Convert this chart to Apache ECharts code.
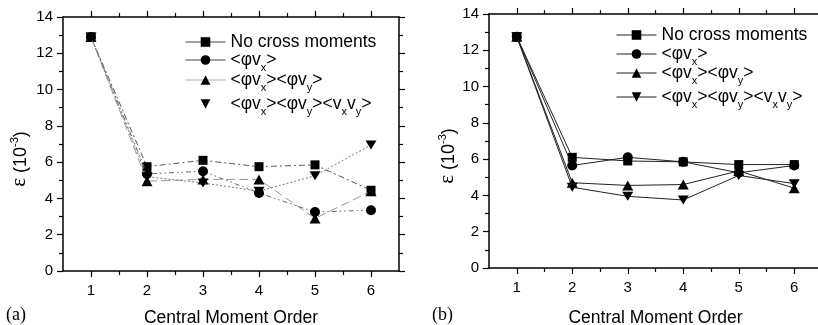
<!DOCTYPE html>
<html>
<head>
<meta charset="utf-8">
<script src="https://cdn.jsdelivr.net/npm/echarts@6/dist/echarts.min.js"></script>
<style>
  html, body { margin: 0; padding: 0; background: #fff; }
  #chart { width: 818px; height: 325px; }
</style>
</head>
<body>
<div id="chart"></div>
<script>
// Central moment order on the horizontal axis
const orders = [1, 2, 3, 4, 5, 6];
const halfSteps = [1.5, 2.5, 3.5, 4.5, 5.5];

// Panel (a): error ε (×10^-3) per closure
const aNoCross = [12.9, 5.75, 6.1, 5.75, 5.85, 4.45];
const aPhiVx = [12.9, 5.35, 5.5, 4.3, 3.25, 3.35];
const aPhiVxVy = [12.9, 4.95, 5.05, 5.05, 2.9, 4.4];
const aAllCross = [12.9, 5.2, 4.85, 4.4, 5.25, 6.95];

// Panel (b)
const bNoCross = [12.75, 6.1, 5.9, 5.85, 5.7, 5.7];
const bPhiVx = [12.75, 5.65, 6.1, 5.85, 5.25, 5.65];
const bPhiVxVy = [12.75, 4.7, 4.55, 4.6, 5.35, 4.4];
const bAllCross = [12.75, 4.45, 3.95, 3.75, 5.1, 4.65];

// Legend entries (rich text: t = normal, s = subscript)
const seriesKeys = ['none', 'x', 'xy', 'xyv'];
const legendLabels = [
  '{t|No cross moments}',
  '{t|<φv}{s|x}{t|>}',
  '{t|<φv}{s|x}{t|><φv}{s|y}{t|>}',
  '{t|<φv}{s|x}{t|><φv}{s|y}{t|><v}{s|x}{t|v}{s|y}{t|>}'
];
const yTitle = '{e|ε}{t| (10}{p|-3}{t|)}';
const xTitle = 'Central Moment Order';

const SANS = 'Liberation Sans, Arial, sans-serif';
const SERIF = 'Liberation Serif, Times New Roman, serif';
const DOWN_TRIANGLE = 'path://M0,0L10,0L5,9Z';
const symbols = ['rect', 'circle', 'triangle', DOWN_TRIANGLE];
const symbolSizes = [9, 10, [11, 10], [11, 10]];

const panels = [
  {
    key: 'a', tag: '(a)', tagLeft: 6,
    grid: { left: 63, top: 17, width: 336, height: 254, outerBoundsMode: 'none' },
    xNameGap: 38, yNameGap: 33,
    values: [aNoCross, aPhiVx, aPhiVxVy, aAllCross],
    lines: [
      { color: '#555', width: 1, type: [6, 3, 2, 3] },
      { color: '#666', width: 1, type: [5, 3, 1.5, 3, 1.5, 3] },
      { color: '#999', width: 1, type: [9, 4] },
      { color: '#777', width: 1, type: [2, 2] }
    ],
    legendLines: [
      { type: 'solid', color: '#444', width: 1 },
      { type: 'solid', color: '#444', width: 1 },
      { type: 'solid', color: '#aaa', width: 1 },
      { type: 'solid', color: '#fff', width: 1, opacity: 0 }
    ],
    legendLeft: 185, legendTops: [33, 51, 71, 95]
  },
  {
    key: 'b', tag: '(b)', tagLeft: 432,
    grid: { left: 489, top: 14, width: 333, height: 254, outerBoundsMode: 'none' },
    xNameGap: 41, yNameGap: 29,
    values: [bNoCross, bPhiVx, bPhiVxVy, bAllCross],
    lines: [0, 1, 2, 3].map(() => ({ color: '#222', width: 1, type: 'solid' })),
    legendLines: [0, 1, 2, 3].map(() => ({ type: 'solid', color: '#222', width: 1 })),
    legendLeft: 616, legendTops: [26, 45, 64, 88]
  }
];

const black = { color: '#000', width: 1.5 };
const tickLine = { color: '#000', width: 1.2 };

function xAxesFor(gi, p) {
  const base = { gridIndex: gi, type: 'value', min: 0.5, max: 6.5, splitLine: { show: false } };
  return [
    Object.assign({}, base, {
      position: 'bottom',
      axisLine: { show: true, lineStyle: black },
      axisTick: { show: true, customValues: orders, length: 6, lineStyle: tickLine },
      axisLabel: { customValues: orders, fontSize: 15, fontFamily: SANS, color: '#000', margin: 12 },
      name: xTitle, nameLocation: 'middle', nameGap: p.xNameGap,
      nameTextStyle: { fontSize: 17.5, fontFamily: SANS, color: '#000' }
    }),
    Object.assign({}, base, {
      position: 'bottom',
      axisLine: { show: false },
      axisTick: { show: true, customValues: halfSteps, length: 4, lineStyle: tickLine },
      axisLabel: { show: false }
    }),
    Object.assign({}, base, {
      position: 'top',
      axisLine: { show: true, lineStyle: black },
      axisTick: { show: true, customValues: orders, length: 6, lineStyle: tickLine },
      axisLabel: { show: false }
    }),
    Object.assign({}, base, {
      position: 'top',
      axisLine: { show: false },
      axisTick: { show: true, customValues: halfSteps, length: 4, lineStyle: tickLine },
      axisLabel: { show: false }
    })
  ];
}

function yAxesFor(gi, p) {
  const base = {
    gridIndex: gi, type: 'value', min: 0, max: 14, interval: 2,
    splitLine: { show: false },
    axisLine: { show: true, lineStyle: black },
    axisTick: { show: true, length: 6, lineStyle: tickLine },
    minorTick: { show: true, splitNumber: 2, length: 4, lineStyle: tickLine }
  };
  return [
    Object.assign({}, base, {
      position: 'left',
      axisLabel: { fontSize: 15, fontFamily: SANS, color: '#000', margin: 10 },
      name: yTitle, nameLocation: 'middle', nameRotate: 90, nameGap: p.yNameGap,
      nameTextStyle: {
        padding: [0, 30, 0, 0],
        rich: {
          e: { fontSize: 21, fontFamily: SERIF, color: '#000', verticalAlign: 'bottom' },
          t: { fontSize: 18, fontFamily: SANS, color: '#000', verticalAlign: 'bottom' },
          p: { fontSize: 11, fontFamily: SANS, color: '#000', verticalAlign: 'top', lineHeight: 21 }
        }
      }
    }),
    Object.assign({}, base, { position: 'right', axisLabel: { show: false } })
  ];
}

const legendText = {
  fontFamily: SANS, fontSize: 17.5, color: '#000',
  rich: {
    t: { fontSize: 17.5, fontFamily: SANS, color: '#000', verticalAlign: 'middle' },
    s: { fontSize: 11, fontFamily: SANS, color: '#000', verticalAlign: 'bottom', lineHeight: 27 }
  }
};

const option = {
  animation: false,
  backgroundColor: '#fff',
  grid: panels.map(p => p.grid),
  xAxis: panels.flatMap((p, gi) => xAxesFor(gi, p)),
  yAxis: panels.flatMap((p, gi) => yAxesFor(gi, p)),
  legend: panels.flatMap(p => seriesKeys.map((k, i) => ({
    data: [p.key + '-' + k],
    left: p.legendLeft, top: p.legendTops[i], padding: 0,
    itemWidth: 40, itemHeight: 12, selectedMode: false,
    lineStyle: p.legendLines[i],
    formatter: () => legendLabels[i],
    textStyle: legendText
  }))),
  series: panels.flatMap((p, gi) => seriesKeys.map((k, i) => ({
    type: 'line',
    name: p.key + '-' + k,
    xAxisIndex: gi * 4, yAxisIndex: gi * 2,
    data: orders.map((o, j) => [o, p.values[i][j]]),
    symbol: symbols[i], symbolSize: symbolSizes[i], symbolKeepAspect: true,
    showAllSymbol: true,
    itemStyle: { color: '#000', borderWidth: 0 },
    lineStyle: p.lines[i],
    z: 3 + i
  }))),
  graphic: panels.map(p => ({
    type: 'text', left: p.tagLeft, top: 306,
    style: { text: p.tag, font: '18px Liberation Serif', fill: '#000' }
  }))
};

const chart = echarts.init(document.getElementById('chart'), null, { renderer: 'canvas' });
chart.setOption(option);
</script>
</body>
</html>
